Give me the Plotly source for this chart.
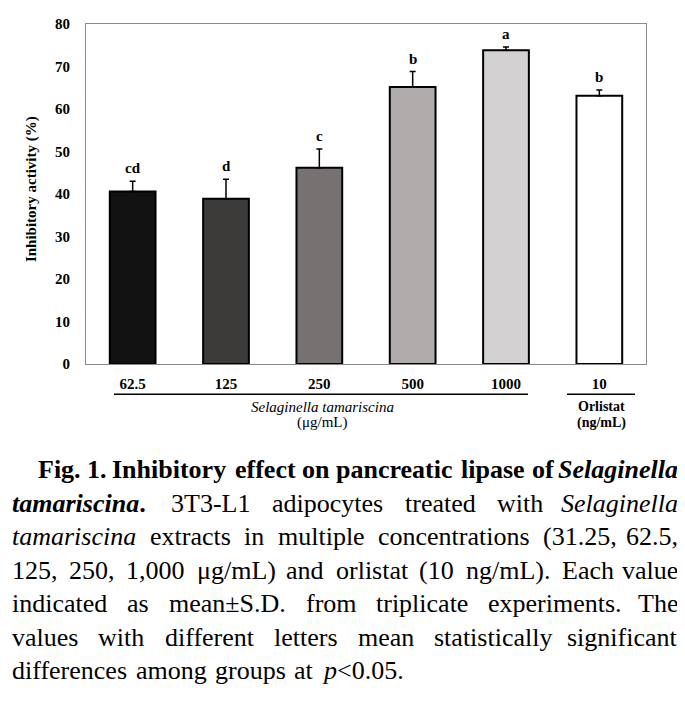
import plotly.graph_objects as go

# ---------------- data ----------------
categories = ["62.5", "125", "250", "500", "1000", "10"]
inhibition = [40.6, 38.9, 46.2, 65.2, 73.8, 63.1]
sd = [2.4, 4.6, 4.4, 3.6, 0.8, 1.4]
letters = ["cd", "d", "c", "b", "a", "b"]
bar_colors = ["#121212", "#3d3b3a", "#767271", "#b0acab", "#d3d1d1", "#ffffff"]

SERIF = "Liberation Serif"

W, H = 685, 708
OFF = 8  # page body margin offset
# desired plot area in screen pixels
SL, SR, ST, SB = 86, 646, 16, 364
L, R, T, B = SL - OFF, SR - OFF, ST - OFF, SB - OFF


def px(x):  # screen x -> paper
    return (x - SL) / (SR - SL)


def py(y):  # screen y -> paper
    return (SB - y) / (SB - ST)


fig = go.Figure()
fig.add_trace(go.Bar(
    x=categories, y=inhibition,
    marker=dict(color=bar_colors, line=dict(color="black", width=2)),
    error_y=dict(type="data", array=sd, arrayminus=[0] * len(sd), symmetric=False,
                 color="black", thickness=1.5, width=3),
    width=0.49,
    showlegend=False,
))

annotations = []
for i, (v, e, lt) in enumerate(zip(inhibition, sd, letters)):
    annotations.append(dict(x=i, y=v + e, xref="x", yref="y", text="<b>%s</b>" % lt,
                            showarrow=False, xanchor="center", yanchor="bottom", yshift=3,
                            font=dict(family=SERIF, size=15, color="black")))


def label(xs, ys, text, size, angle=0):
    return dict(x=px(xs), y=py(ys), xref="paper", yref="paper", text=text, textangle=angle,
                xanchor="center", yanchor="middle", showarrow=False,
                font=dict(family=SERIF, size=size, color="black"))


# y-axis title
annotations.append(label(31, 185, "<b>Inhibitory activity (%)</b>", 15, -90))

# group labels
annotations += [
    label(322, 408, "<i>Selaginella tamariscina</i>", 15),
    label(322, 424, "(μg/mL)", 15),
    label(601, 408, "<b>Orlistat</b>", 14),
    label(601, 424, "<b>(ng/mL)</b>", 14),
]

shapes = [
    dict(type="line", xref="paper", yref="paper", x0=px(114), x1=px(528), y0=py(395), y1=py(395),
         line=dict(color="black", width=1.5)),
    dict(type="line", xref="paper", yref="paper", x0=px(567), x1=px(635), y0=py(395), y1=py(395),
         line=dict(color="black", width=1.5)),
]

# ---------------- caption (justified) ----------------
REG = {' ': 250, '(': 333, ')': 333, ',': 250, '-': 333, '.': 250, '/': 278, '<': 564, '±': 564, 'μ': 500,
       'A': 722, 'B': 667, 'C': 667, 'D': 722, 'E': 611, 'F': 556, 'G': 722, 'H': 722, 'I': 333, 'J': 389,
       'K': 722, 'L': 611, 'M': 889, 'N': 722, 'O': 722, 'P': 556, 'Q': 722, 'R': 667, 'S': 556, 'T': 611,
       'U': 722, 'V': 722, 'W': 944, 'X': 722, 'Y': 722, 'Z': 611,
       'a': 444, 'b': 500, 'c': 444, 'd': 500, 'e': 444, 'f': 333, 'g': 500, 'h': 500, 'i': 278, 'j': 278,
       'k': 500, 'l': 278, 'm': 778, 'n': 500, 'o': 500, 'p': 500, 'q': 500, 'r': 333, 's': 389, 't': 278,
       'u': 500, 'v': 500, 'w': 722, 'x': 500, 'y': 500, 'z': 444}
for d in "0123456789":
    REG[d] = 500
BOLD = dict(REG)
BOLD.update({'F': 611, 'I': 389, 'L': 667, 'T': 667, 'S': 556, 'a': 500, 'b': 556, 'd': 556, 'h': 556,
             'm': 833, 'n': 556, 'p': 556, 'r': 444, 't': 333, 'u': 556})
ITAL = dict(REG)
ITAL.update({'S': 500, 'a': 500, 'm': 722, 'r': 389, 'p': 500})
BITAL = dict(REG)
BITAL.update({'S': 556, 'a': 500, 'n': 556, 'r': 389})
TABLES = {"": REG, "b": BOLD, "i": ITAL, "bi": BITAL}
FUDGE = {"": 1.0, "b": 1.025, "i": 1.0, "bi": 1.025}
CAP_SIZE = 26


def seg_width(text, style):
    tab = TABLES[style]
    return sum(tab.get(ch, 500) for ch in text) / 1000 * CAP_SIZE * FUDGE[style]


def seg_html(text, style):
    t = text.replace("<", "&lt;")
    if "i" in style:
        t = "<i>%s</i>" % t
    if "b" in style:
        t = "<b>%s</b>" % t
    return t


caption_lines = [
    (36, True, [[("Fig.", "b")], [("1.", "b")], [("Inhibitory", "b")], [("effect", "b")], [("on", "b")],
                [("pancreatic", "b")], [("lipase", "b")], [("of", "b")], [("Selaginella", "bi")]]),
    (10, True, [[("tamariscina", "bi"), (".", "b")], [("3T3-L1", "")], [("adipocytes", "")],
                [("treated", "")], [("with", "")], [("Selaginella", "i")]]),
    (10, True, [[("tamariscina", "i")], [("extracts", "")], [("in", "")], [("multiple", "")],
                [("concentrations", "")], [("(31.25,", "")], [("62.5,", "")]]),
    (10, True, [[("125,", "")], [("250,", "")], [("1,000", "")], [("μg/mL)", "")], [("and", "")],
                [("orlistat", "")], [("(10", "")], [("ng/mL).", "")], [("Each", "")], [("value", "")]]),
    (10, True, [[("indicated", "")], [("as", "")], [("mean±S.D.", "")], [("from", "")],
                [("triplicate", "")], [("experiments.", "")], [("The", "")]]),
    (10, True, [[("values", "")], [("with", "")], [("different", "")], [("letters", "")], [("mean", "")],
                [("statistically", "")], [("significant", "")]]),
    (10, False, [[("differences", "")], [("among", "")], [("groups", "")], [("at", "")],
                 [("p", "i"), ("<0.05.", "")]]),
]
RIGHT = 680
y0, dy = 472, 34.3
for li, (x_start, justify, words) in enumerate(caption_lines):
    widths = [sum(seg_width(t, s) for t, s in w) for w in words]
    if justify:
        gap = (RIGHT - x_start - sum(widths)) / (len(words) - 1)
    else:
        gap = REG[' '] / 1000 * CAP_SIZE * 1.3
    x = x_start
    ypix = y0 + li * dy
    for j, (w, wd) in enumerate(zip(words, widths)):
        html = "".join(seg_html(t, s) for t, s in w)
        last = justify and j == len(words) - 1
        annotations.append(dict(x=px(RIGHT if last else x), y=py(ypix), xref="paper", yref="paper",
                                text=html, xanchor="right" if last else "left", yanchor="middle",
                                showarrow=False,
                                font=dict(family=SERIF, size=CAP_SIZE, color="black")))
        x += wd + gap

fig.update_layout(
    width=W, height=H,
    margin=dict(l=L, r=W - R, t=T, b=H - B),
    paper_bgcolor="white", plot_bgcolor="white",
    bargap=0.5,
    annotations=annotations,
    shapes=shapes,
    xaxis=dict(type="category", range=[-0.5, 5.5], showline=True, linecolor="#8a8a8a", linewidth=1,
               mirror=True, showgrid=False, ticks="", ticklabelstandoff=6,
               tickfont=dict(family=SERIF, size=15, color="black", weight="bold")),
    yaxis=dict(range=[0, 80], dtick=10, showline=True, linecolor="#8a8a8a", linewidth=1, mirror=True,
               showgrid=False, zeroline=False, ticks="", ticklabelstandoff=12,
               tickfont=dict(family=SERIF, size=15, color="black", weight="bold")),
)

fig.write_html("out.html")
